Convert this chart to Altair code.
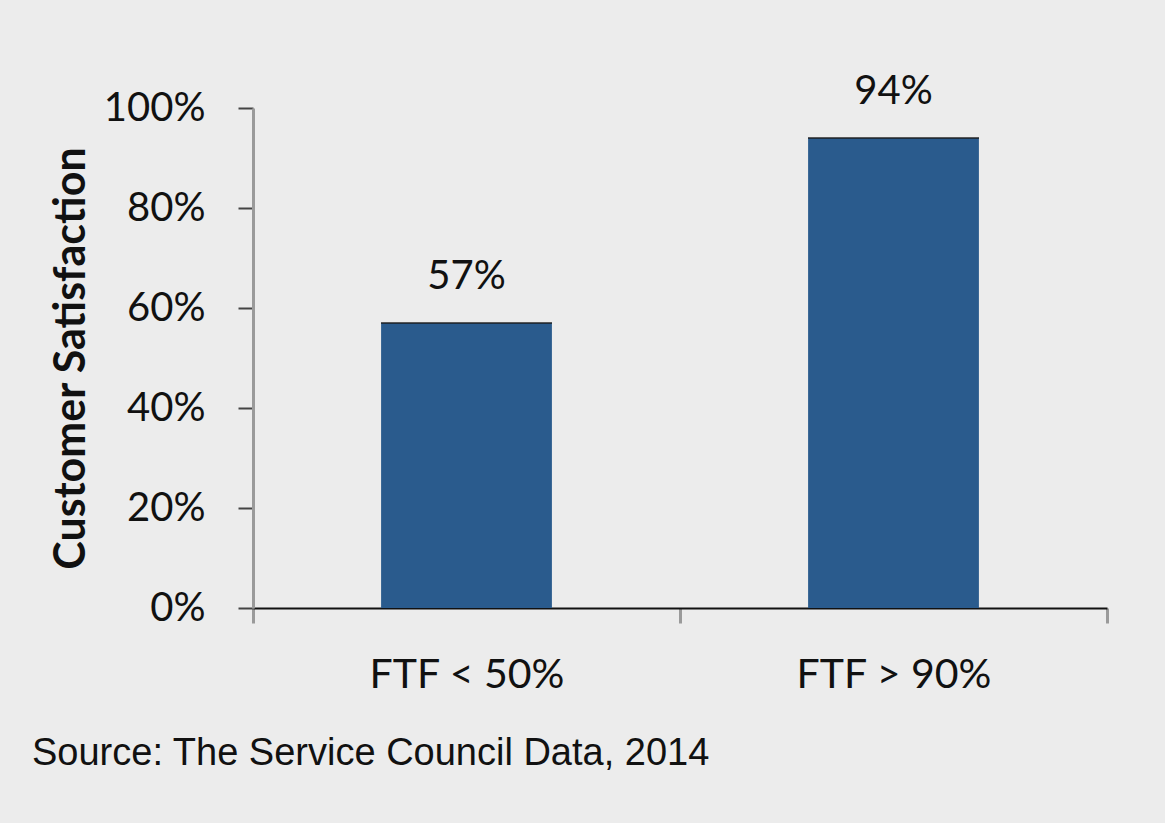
import altair as alt
import pandas as pd

categories = ["FTF < 50%", "FTF > 90%"]
values = [0.57, 0.94]
y_ticks = [0, 0.2, 0.4, 0.6, 0.8, 1.0]

df = pd.DataFrame({"cat": categories, "val": values})

FONT = "Lato"

x_enc = alt.X(
    "cat:N",
    sort=categories,
    scale=alt.Scale(paddingInner=0, paddingOuter=0),
    axis=alt.Axis(
        title=None,
        labelAngle=0,
        labelFont=FONT,
        labelFontSize=41,
        labelColor="#111111",
        labelPadding=32,
        labelLimit=1000,
        tickBand="extent",
        tickSize=15,
        tickWidth=3,
        tickColor="#9a9a9a",
        domainColor="#111111",
        domainWidth=2,
    ),
)

y_enc = alt.Y(
    "val:Q",
    scale=alt.Scale(domain=[0, 1], nice=False),
    axis=alt.Axis(
        title="Customer Satisfaction",
        values=y_ticks,
        format=".0%",
        labelFont=FONT,
        labelFontSize=40,
        labelColor="#111111",
        labelPadding=33,
        tickSize=15,
        tickWidth=2,
        tickColor="#444444",
        domainColor="#9a9a9a",
        domainWidth=3,
        grid=False,
        titleFont=FONT,
        titleFontSize=43,
        titleFontWeight="bold",
        titleColor="#111111",
        titlePadding=10,
    ),
)

bars = alt.Chart(df).mark_bar(
    color="#2a5b8d", width=alt.RelativeBandSize(0.4)
).encode(x=x_enc, y=y_enc)

tops = alt.Chart(df).mark_tick(
    color="#1a1a1a", thickness=2, size=171, orient="horizontal"
).encode(x=alt.X("cat:N", sort=categories), y="val:Q")

labels = alt.Chart(df).mark_text(
    font=FONT, fontSize=40, color="#111111", baseline="alphabetic", dy=-34
).encode(x=alt.X("cat:N", sort=categories), y="val:Q", text=alt.Text("val:Q", format=".0%"))

chart = (
    alt.layer(bars, tops, labels)
    .properties(
        width=854,
        height=500,
        background="#ececec",
        padding={"left": 253, "top": 108, "right": 58, "bottom": 215},
        autosize=alt.AutoSizeParams(type="none"),
        title=alt.TitleParams(
            text="Source: The Service Council Data, 2014",
            orient="bottom",
            anchor="start",
            frame="group",
            dx=-221,
            offset=40,
            font="Liberation Sans",
            fontSize=38,
            fontWeight="normal",
            color="#111111",
        ),
    )
    .configure_view(stroke=None)
)

chart.save("out.html", embed_options={"renderer": "svg", "actions": False})
